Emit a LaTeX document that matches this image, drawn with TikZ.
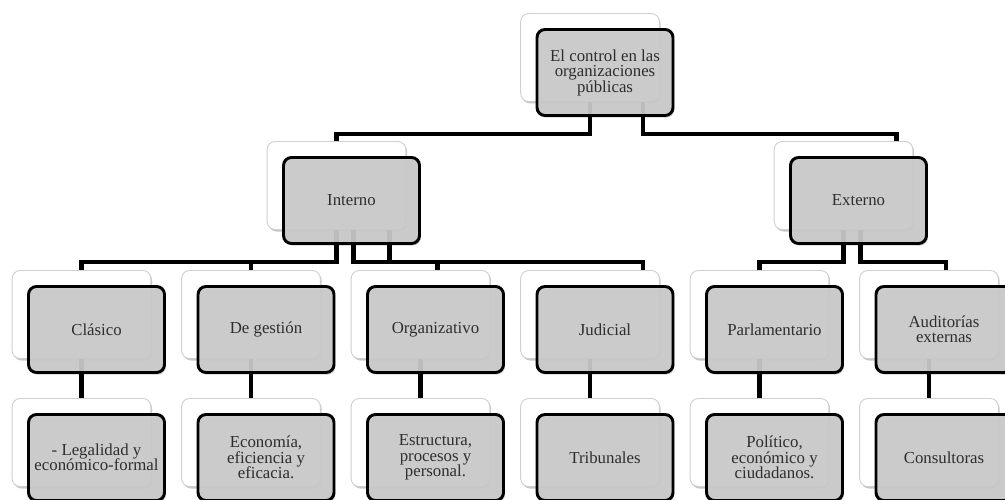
\documentclass[tikz,border=0pt]{standalone}
\usepackage{fontspec}
\setmainfont{Liberation Serif}
\usetikzlibrary{calc,shadows}
\definecolor{boxfill}{HTML}{CBCBCB}
\definecolor{inkgray}{HTML}{2E2E2E}
\definecolor{cardedge}{HTML}{D0D0D0}
\begin{document}
\begin{tikzpicture}[x=0.75pt,y=-0.75pt,
  card/.style={rectangle, rounded corners=6pt, minimum width=104pt, minimum height=66pt,
    inner sep=0pt, fill=white, draw=cardedge, line width=0.7pt,
    drop shadow={shadow xshift=1pt, shadow yshift=-1.5pt, opacity=0.22, fill=black}},
  box/.style={rectangle, rounded corners=6pt, minimum width=102pt, minimum height=64.5pt,
    inner sep=2pt, fill=boxfill, fill opacity=0.93, text opacity=1, draw=black,
    line width=2.2pt, text=inkgray, align=center,
    font=\fontsize{12.6}{11.6}\selectfont,
    drop shadow={shadow xshift=1pt, shadow yshift=-1.6pt, opacity=0.2, fill=black}},
  conn/.style={draw=black, line width=3.3pt}
]
\useasboundingbox (0,0) rectangle (1005,499);
\clip (0,0) rectangle (1005,499);

% white back cards
\node[card] (topS)      at (590,57.5) {};
\node[card] (internoS)  at (336.5,185.5) {};
\node[card] (externoS)  at (843.5,185.5) {};
\node[card] (clasicoS)  at (81.5,314.5) {};
\node[card] (gestionS)  at (251,314.5) {};
\node[card] (organS)    at (420.5,314.5) {};
\node[card] (judicialS) at (590,314.5) {};
\node[card] (parlaS)    at (759.5,314.5) {};
\node[card] (auditS)    at (929,314.5) {};
\node[card] (legalS)    at (81.5,442.5) {};
\node[card] (econS)     at (251,442.5) {};
\node[card] (estrS)     at (420.5,442.5) {};
\node[card] (tribS)     at (590,442.5) {};
\node[card] (poliS)     at (759.5,442.5) {};
\node[card] (consS)     at (929,442.5) {};

% connectors
\draw[conn] (topS.south) |- ($(internoS.north)+(0,-7)$) -- (internoS.north);
\draw[conn] ($(topS.south)+(53,0)$) |- ($(externoS.north)+(53,-7)$) -- ($(externoS.north)+(53,0)$);

\draw[conn] (internoS.south) |- ($(clasicoS.north)+(0,-8)$) -- (clasicoS.north);
\draw[conn] (internoS.south) |- ($(gestionS.north)+(0,-8)$) -- (gestionS.north);
\draw[conn] ($(internoS.south)+(17,0)$) |- ($(organS.north)+(17,-8)$) -- ($(organS.north)+(17,0)$);
\draw[conn] ($(internoS.south)+(53,0)$) |- ($(judicialS.north)+(53,-8)$) -- ($(judicialS.north)+(53,0)$);

\draw[conn] (externoS.south) |- ($(parlaS.north)+(0,-8)$) -- (parlaS.north);
\draw[conn] ($(externoS.south)+(17,0)$) |- ($(auditS.north)+(17,-8)$) -- ($(auditS.north)+(17,0)$);

\draw[conn] (clasicoS.south) -- (legalS.north);
\draw[conn] (gestionS.south) -- (econS.north);
\draw[conn] (organS.south) -- (estrS.north);
\draw[conn] (judicialS.south) -- (tribS.north);
\draw[conn] (parlaS.south) -- (poliS.north);
\draw[conn] (auditS.south) -- (consS.north);

% grey front boxes
\node[box] (top)      at (605,72.5) {El control en las\\organizaciones\\públicas};
\node[box] (interno)  at (351.5,200.5) {Interno};
\node[box] (externo)  at (858.5,200.5) {Externo};
\node[box] (clasico)  at (96.5,329.5) {Clásico};
\node[box] (gestion)  at (266,329.5) {De gestión};
\node[box] (organ)    at (435.5,329.5) {Organizativo};
\node[box] (judicial) at (605,329.5) {Judicial};
\node[box] (parla)    at (774.5,329.5) {Parlamentario};
\node[box] (audit)    at (944,329.5) {Auditorías\\externas};
\node[box] (legal)    at (96.5,457.5) {- Legalidad y\\económico-formal};
\node[box] (econ)     at (266,457.5) {Economía,\\eficiencia y\\eficacia.};
\node[box] (estr)     at (435.5,457.5) {Estructura,\\procesos y\\personal.};
\node[box] (trib)     at (605,457.5) {Tribunales};
\node[box] (poli)     at (774.5,457.5) {Político,\\económico y\\ciudadanos.};
\node[box] (cons)     at (944,457.5) {Consultoras};
\end{tikzpicture}
\end{document}
